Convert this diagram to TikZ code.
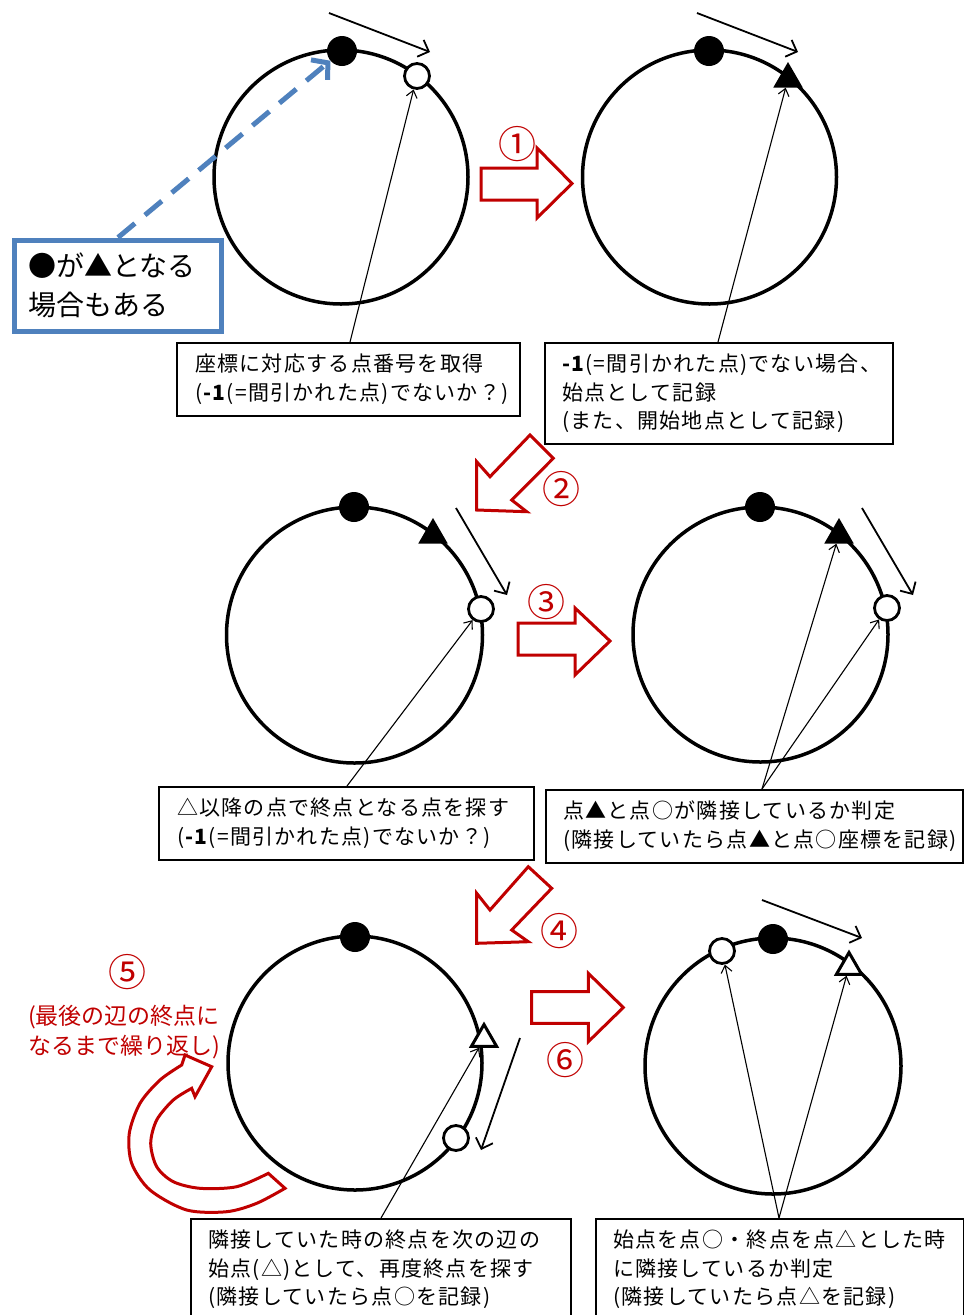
\documentclass[tikz,border=0pt]{standalone}
\usepackage{fontspec}
\newfontfamily\jp{Noto Sans CJK JP}
\newfontfamily\jpsp[LetterSpace=6]{Noto Sans CJK JP}
\usetikzlibrary{arrows.meta,shapes.geometric}
\definecolor{dred}{HTML}{C00000}
\definecolor{lblue}{HTML}{4F81BD}
\begin{document}
\begin{tikzpicture}[x=1pt,y=-1pt,
  ring/.style={line width=3.5pt},
  bdot/.style={circle, fill=black, inner sep=0pt, minimum size=30pt},
  wdot/.style={circle, draw=black, fill=white, line width=2.8pt, inner sep=0pt, minimum size=25pt},
  btri/.style={regular polygon, regular polygon sides=3, fill=black, inner sep=0pt, minimum size=34pt},
  wtri/.style={regular polygon, regular polygon sides=3, draw=black, fill=white, line width=3pt, inner sep=0pt, minimum size=29pt},
  dirarr/.style={line width=1.8pt, -{Straight Barb[length=9pt,width=18pt]}},
  ptr/.style={line width=1.1pt, -{Straight Barb[length=7pt,width=11pt]}},
  box/.style={draw=black, line width=1.5pt, fill=white, inner sep=0pt, anchor=north west},
  boxtext/.style={font=\jpsp\fontsize{21}{28.5}\selectfont, align=left, inner sep=0pt, anchor=west},
  bigarr/.style={draw=dred, line width=3pt, line join=miter, fill=white},
  num/.style={text=dred, font=\jp\fontsize{38}{38}\selectfont, inner sep=0pt},
]
\useasboundingbox (0,0) rectangle (964,1315);
\clip (0,0) rectangle (964,1315);

% ---------- Panel 1 ----------
\draw[ring] (341,177) circle[radius=127];
\node[bdot] (d1) at (342,51) {};
\node[wdot] (o1) at (417,76) {};
\draw[dirarr] (329,13) -- (430,52);
\node[box, minimum width=343, minimum height=73] (b1) at (176,342) {};
\node[boxtext] (t1) at ([xshift=19pt]b1.west) {座標に対応する点番号を取得\\(\textbf{-1}(=間引かれた点)でないか？)};
\draw[ptr] ([xshift=174pt]b1.north west) -- (o1);

% blue note
\node[draw=lblue, line width=5pt, minimum width=207, minimum height=91.5, inner sep=0pt, anchor=north west] (blue) at (12,237.5) {};
\node[font=\jp\fontsize{28}{39}\selectfont, align=left, inner sep=0pt, anchor=west] (bt) at ([xshift=16pt]blue.west) {●が▲となる\\場合もある};
\draw[lblue, line width=5pt, dash pattern=on 22pt off 13pt, -{Straight Barb[length=11pt,width=26pt]}] (blue.north) -- (d1);

% ---------- arrow 1 ----------
\draw[bigarr] (481,168) -- (537,168) -- (537,148) -- (572,183.5) -- (537,218) -- (537,200) -- (481,200) -- cycle;
\node[num] (n1) at (517,144) {①};

% ---------- Panel 2 ----------
\draw[ring] (709.5,177) circle[radius=127];
\node[bdot] (d2) at (709,51) {};
\node[btri] (tr2) at (788,79) {};
\draw[dirarr] (697,13) -- (798,52);
\node[box, minimum width=348, minimum height=101] (b2) at (544,342) {};
\node[boxtext] (t2) at ([xshift=18pt]b2.west) {\textbf{-1}(=間引かれた点)でない場合、\\始点として記録\\(また、開始地点として記録)};
\draw[ptr] ([xshift=174pt]b2.north west) -- (tr2);

% ---------- arrow 2 ----------
\draw[bigarr] (476.7,510) -- (476.7,461.7) -- (490,476.7) -- (530,435) -- (553.3,458.3) -- (511.7,500) -- (526.7,511.7) -- cycle;
\node[num] (n2) at (561,489) {②};

% ---------- Panel 3 ----------
\draw[ring] (354.5,635) circle[radius=128];
\node[bdot] (d3) at (354,507) {};
\node[btri] (tr3) at (433,535) {};
\node[wdot] (o3) at (481,609) {};
\draw[dirarr] (456,508) -- (507,595);
\node[box, minimum width=375, minimum height=73] (b3) at (158,786) {};
\node[boxtext] (t3) at ([xshift=19pt]b3.west) {△以降の点で終点となる点を探す\\(\textbf{-1}(=間引かれた点)でないか？)};
\draw[ptr] ([xshift=189pt]b3.north west) -- (o3);

% ---------- arrow 3 ----------
\draw[bigarr] (518,623) -- (575,623) -- (575,608) -- (610,641) -- (575,675) -- (575,655) -- (518,655) -- cycle;
\node[num] (n3) at (546,602) {③};

% ---------- Panel 4 ----------
\draw[ring] (760.5,634.5) circle[radius=127.5];
\node[bdot] (d4) at (760,507) {};
\node[btri] (tr4) at (839,535) {};
\node[wdot] (o4) at (887,608) {};
\draw[dirarr] (862,508) -- (913,595);
\node[box, minimum width=417, minimum height=73] (b4) at (545,789) {};
\node[boxtext] (t4) at ([xshift=18pt]b4.west) {点▲と点○が隣接しているか判定\\(隣接していたら点▲と点○座標を記録)};
\draw[ptr] ([xshift=217pt]b4.north west) -- (tr4);
\draw[ptr] ([xshift=217pt]b4.north west) -- (o4);

% ---------- arrow 4 ----------
\draw[bigarr] (476.7,943.3) -- (476.7,893.3) -- (490,910) -- (528.3,866.7) -- (551.7,888.3) -- (511.7,930) -- (528.3,941.7) -- cycle;
\node[num] (n4) at (559,931) {④};

% ---------- Panel 5 ----------
\draw[ring] (355,1063) circle[radius=127];
\node[bdot] (d5) at (355,937) {};
\node[wtri] (tr5) at (484,1039) {};
\node[wdot] (o5) at (456,1138) {};
\draw[dirarr] (520,1038) -- (481,1150);
\node[box, minimum width=380, minimum height=110] (b5) at (190,1218) {};
\node[boxtext, anchor=north west] (t5) at ([xshift=18pt,yshift=-12pt]b5.north west) {隣接していた時の終点を次の辺の\\始点(△)として、再度終点を探す\\(隣接していたら点○を記録)};
\draw[ptr] ([xshift=191pt]b5.north west) -- (tr5);

% U-turn arrow 5
\draw[bigarr] plot[smooth] coordinates {(181.7,1065) (160,1080) (140,1103.3) (129.3,1133.3) (131.7,1163.3) (150,1190) (186.7,1210) (226.7,1211.7) (256.7,1203.3) (285,1188.3)}
  -- plot[smooth] coordinates {(268.3,1173.3) (236.7,1186.7) (200,1188.3) (173.3,1181.7) (156.7,1166.7) (150.7,1143.3) (156.7,1120) (173.3,1100) (191.7,1088.3)}
  -- (195,1096.7) -- (211.7,1066.7) -- (185,1055) -- cycle;
\node[num] (n5) at (127,972) {⑤};
\node[text=dred, font=\jp\fontsize{23}{29.5}\selectfont, align=center, inner sep=0pt] (r5) at (124,1032) {(最後の辺の終点に\\なるまで繰り返し)};

% ---------- arrow 6 ----------
\draw[bigarr] (531.7,991.7) -- (588.3,991.7) -- (588.3,973.3) -- (623.3,1007.5) -- (588.3,1041.7) -- (588.3,1023.3) -- (531.7,1023.3) -- cycle;
\node[num] (n6) at (565,1060) {⑥};

% ---------- Panel 6 ----------
\draw[ring] (773,1066) circle[radius=128];
\node[wdot] (o6) at (722,951) {};
\node[bdot] (d6) at (773,939) {};
\node[wtri] (tr6) at (849,967) {};
\draw[dirarr] (762,900) -- (862,938);
\node[box, minimum width=368, minimum height=110] (b6) at (595,1218) {};
\node[boxtext, anchor=north west] (t6) at ([xshift=18pt,yshift=-12pt]b6.north west) {始点を点○・終点を点△とした時\\に隣接しているか判定\\(隣接していたら点△を記録)};
\draw[ptr] ([xshift=184pt]b6.north west) -- (o6);
\draw[ptr] ([xshift=184pt]b6.north west) -- (tr6);
\end{tikzpicture}
\end{document}
